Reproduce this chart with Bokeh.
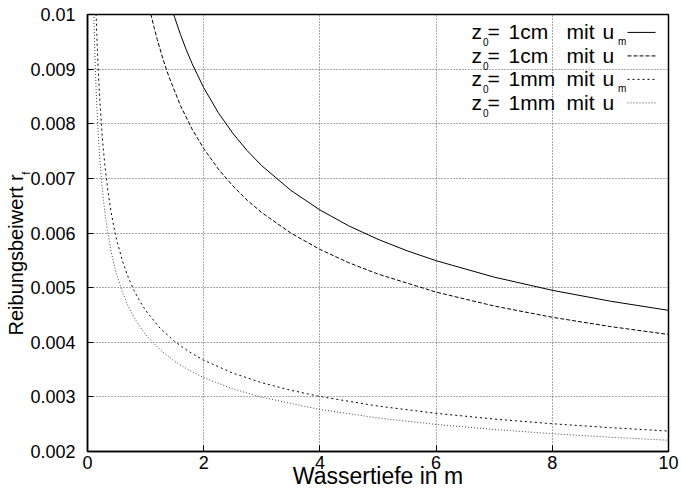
from math import pi
from bokeh.plotting import figure
from bokeh.models import Range1d, FixedTicker, PrintfTickFormatter, Label, Title
from bokeh.embed import file_html
from bokeh.resources import INLINE

# ---- data ----
depth_1cm_um = [1.48, 1.5, 1.6, 1.7, 1.8, 2.0, 2.25, 2.5, 2.75, 3.0, 3.5, 4.0, 4.5, 5.0, 5.5, 6.0, 7.0, 8.0, 9.0, 10.0]
rf_1cm_um = [0.010014, 0.009947, 0.009634, 0.009354, 0.009101, 0.008660, 0.008204, 0.007826, 0.007506, 0.007231,
             0.006780, 0.006422, 0.006129, 0.005884, 0.005675, 0.005493, 0.005192, 0.004951, 0.004752, 0.004584]

depth_1cm_u = [1.09, 1.145, 1.2, 1.3, 1.4, 1.6, 1.8, 2.0, 2.25, 2.5, 2.75, 3.0, 3.5, 4.0, 4.5, 5.0, 6.0, 7.0, 8.0, 9.0, 10.0]
rf_1cm_u = [0.010009, 0.009767, 0.009544, 0.009182, 0.008864, 0.008332, 0.007902, 0.007545, 0.007173, 0.006863,
            0.006600, 0.006373, 0.005998, 0.005700, 0.005454, 0.005248, 0.004918, 0.004663, 0.004457, 0.004287, 0.004143]

depth_1mm_um = [0.148, 0.16, 0.17, 0.18, 0.2, 0.225, 0.25, 0.275, 0.3, 0.35, 0.4, 0.45, 0.5, 0.6, 0.7, 0.8, 0.9, 1.0,
                1.25, 1.5, 1.75, 2.0, 2.5, 3.0, 3.5, 4.0, 5.0, 6.0, 7.0, 8.0, 9.0, 10.0]
rf_1mm_um = [0.010014, 0.009634, 0.009354, 0.009101, 0.008660, 0.008204, 0.007826, 0.007506, 0.007231, 0.006780,
             0.006422, 0.006129, 0.005884, 0.005493, 0.005192, 0.004951, 0.004752, 0.004584,
             0.004257, 0.004014, 0.003825, 0.003672, 0.003436, 0.003259, 0.003121, 0.003007, 0.002831, 0.002699,
             0.002594, 0.002508, 0.002436, 0.002374]

depth_1mm_u = [0.109, 0.12, 0.13, 0.14, 0.16, 0.18, 0.2, 0.225, 0.25, 0.275, 0.3, 0.35, 0.4, 0.45, 0.5, 0.6, 0.7, 0.8,
               0.9, 1.0, 1.25, 1.5, 1.75, 2.0, 2.5, 3.0, 4.0, 5.0, 6.0, 7.0, 8.0, 9.0, 10.0]
rf_1mm_u = [0.010009, 0.009544, 0.009182, 0.008864, 0.008332, 0.007902, 0.007545, 0.007173, 0.006863, 0.006600,
            0.006373, 0.005998, 0.005700, 0.005454, 0.005248, 0.004918, 0.004663, 0.004457, 0.004287, 0.004143,
            0.003861, 0.003651, 0.003487, 0.003353, 0.003147, 0.002992, 0.002769, 0.002614, 0.002496, 0.002403,
            0.002326, 0.002261, 0.002206]

x_ticks = [0, 2, 4, 6, 8, 10]
x_tick_labels = ["0", "2", "4", "6", "8", "10"]
y_ticks = [0.002, 0.003, 0.004, 0.005, 0.006, 0.007, 0.008, 0.009, 0.01]
y_tick_labels = ["0.002", "0.003", "0.004", "0.005", "0.006", "0.007", "0.008", "0.009", "0.01"]

legend_z0 = ["1cm", "1cm", "1mm", "1mm"]
legend_sub = ["m", "", "m", ""]
x_title = "Wassertiefe in m"
y_title = "Reibungsbeiwert r"
y_title_sub = "f"

# ---- layout ----
W, H = 681, 491
LEFT, RIGHT, TOP, BOTTOM = 87, 13, 14, 38
FONT = "Liberation Sans"

p = figure(width=W, height=H, output_backend="svg", toolbar_location=None,
           x_range=Range1d(0, 10), y_range=Range1d(0.002, 0.01),
           min_border_left=LEFT, min_border_right=RIGHT,
           min_border_top=TOP, min_border_bottom=BOTTOM,
           background_fill_color="white", border_fill_color="white")

# pixel-space ranges for legend placement
p.extra_x_ranges = {"px": Range1d(LEFT, W - RIGHT)}
p.extra_y_ranges = {"py": Range1d(H - BOTTOM, TOP)}

p.outline_line_color = "black"
p.outline_line_width = 1.5

# axes
xt = FixedTicker(ticks=x_ticks)
yt = FixedTicker(ticks=y_ticks)
p.xaxis.ticker = xt
p.yaxis.ticker = yt
p.xgrid.ticker = xt
p.ygrid.ticker = yt
p.yaxis.formatter = PrintfTickFormatter(format="%g")
p.xaxis.major_label_overrides = dict(zip(x_ticks, x_tick_labels))
p.yaxis.major_label_overrides = dict(zip(y_ticks, y_tick_labels))

for ax in (p.xaxis, p.yaxis):
    ax.axis_line_color = "black"
    ax.axis_line_width = 1.5
    ax.major_tick_in = 6
    ax.major_tick_out = 0
    ax.major_tick_line_color = "black"
    ax.minor_tick_line_color = None
    ax.major_label_text_font = FONT
    ax.major_label_text_font_size = "18px"
    ax.major_label_text_color = "black"
    ax.axis_label_text_font = FONT
    ax.axis_label_text_font_style = "normal"
    ax.axis_label_text_color = "black"

p.xaxis.major_label_standoff = 4
p.yaxis.major_label_standoff = 12
p.xaxis.axis_label = x_title
p.xaxis.axis_label_text_font_size = "23px"
p.xaxis.axis_label_standoff = -9

# y-axis title as a left-side title, shifted along the axis like the reference
p.add_layout(Title(text=y_title, align="left", offset=116, standoff=2,
                   text_font=FONT, text_font_size="20px", text_font_style="normal",
                   text_color="black"), "left")
# subscript of the y title (placed in a side panel so it is not clipped to the frame)
p.add_layout(Label(x=25, y=175, text=y_title_sub, angle=pi / 2, x_range_name="px", y_range_name="py",
                   text_font=FONT, text_font_size="11px", text_color="black",
                   text_align="left", text_baseline="alphabetic"), "above")

for g in (p.xgrid, p.ygrid):
    g.grid_line_color = "#555555"
    g.grid_line_width = 1
    g.grid_line_dash = "1 2"

# curves
styles = [
    dict(line_color="black", line_dash="solid"),
    dict(line_color="black", line_dash="4 2"),
    dict(line_color="black", line_dash="2 3"),
    dict(line_color="#444444", line_dash="1 2"),
]
series = [(depth_1cm_um, rf_1cm_um), (depth_1cm_u, rf_1cm_u),
          (depth_1mm_um, rf_1mm_um), (depth_1mm_u, rf_1mm_u)]
for (xs, ys), st in zip(series, styles):
    p.line(xs, ys, line_width=1, **st)

# legend (text on the left, line sample on the right, as in the reference)
B0, DY = 38.5, 23.6
for i, (z0, sub) in enumerate(zip(legend_z0, legend_sub)):
    b = B0 + i * DY
    common = dict(x_range_name="px", y_range_name="py", text_font=FONT,
                  text_color="black", text_align="left", text_baseline="alphabetic")
    t = b - 7
    p.add_layout(Label(x=471, y=t, text="z", text_font_size="21px", **common))
    p.add_layout(Label(x=482.5, y=b + 3.5, text="0", text_font_size="10px", **common))
    p.add_layout(Label(x=487, y=t, text="=", text_font_size="21px", **common))
    p.add_layout(Label(x=508, y=t, text=z0, text_font_size="21px", **common))
    p.add_layout(Label(x=566, y=t, text="mit", text_font_size="21px", **common))
    p.add_layout(Label(x=602, y=t, text="u", text_font_size="21px", **common))
    if sub:
        p.add_layout(Label(x=617.5, y=b + 3, text=sub, text_font_size="10px", **common))
    p.line([627, 655], [b - 6.5, b - 6.5], x_range_name="px", y_range_name="py",
           line_width=1, **styles[i])

open("out.html", "w").write(file_html(p, INLINE))
